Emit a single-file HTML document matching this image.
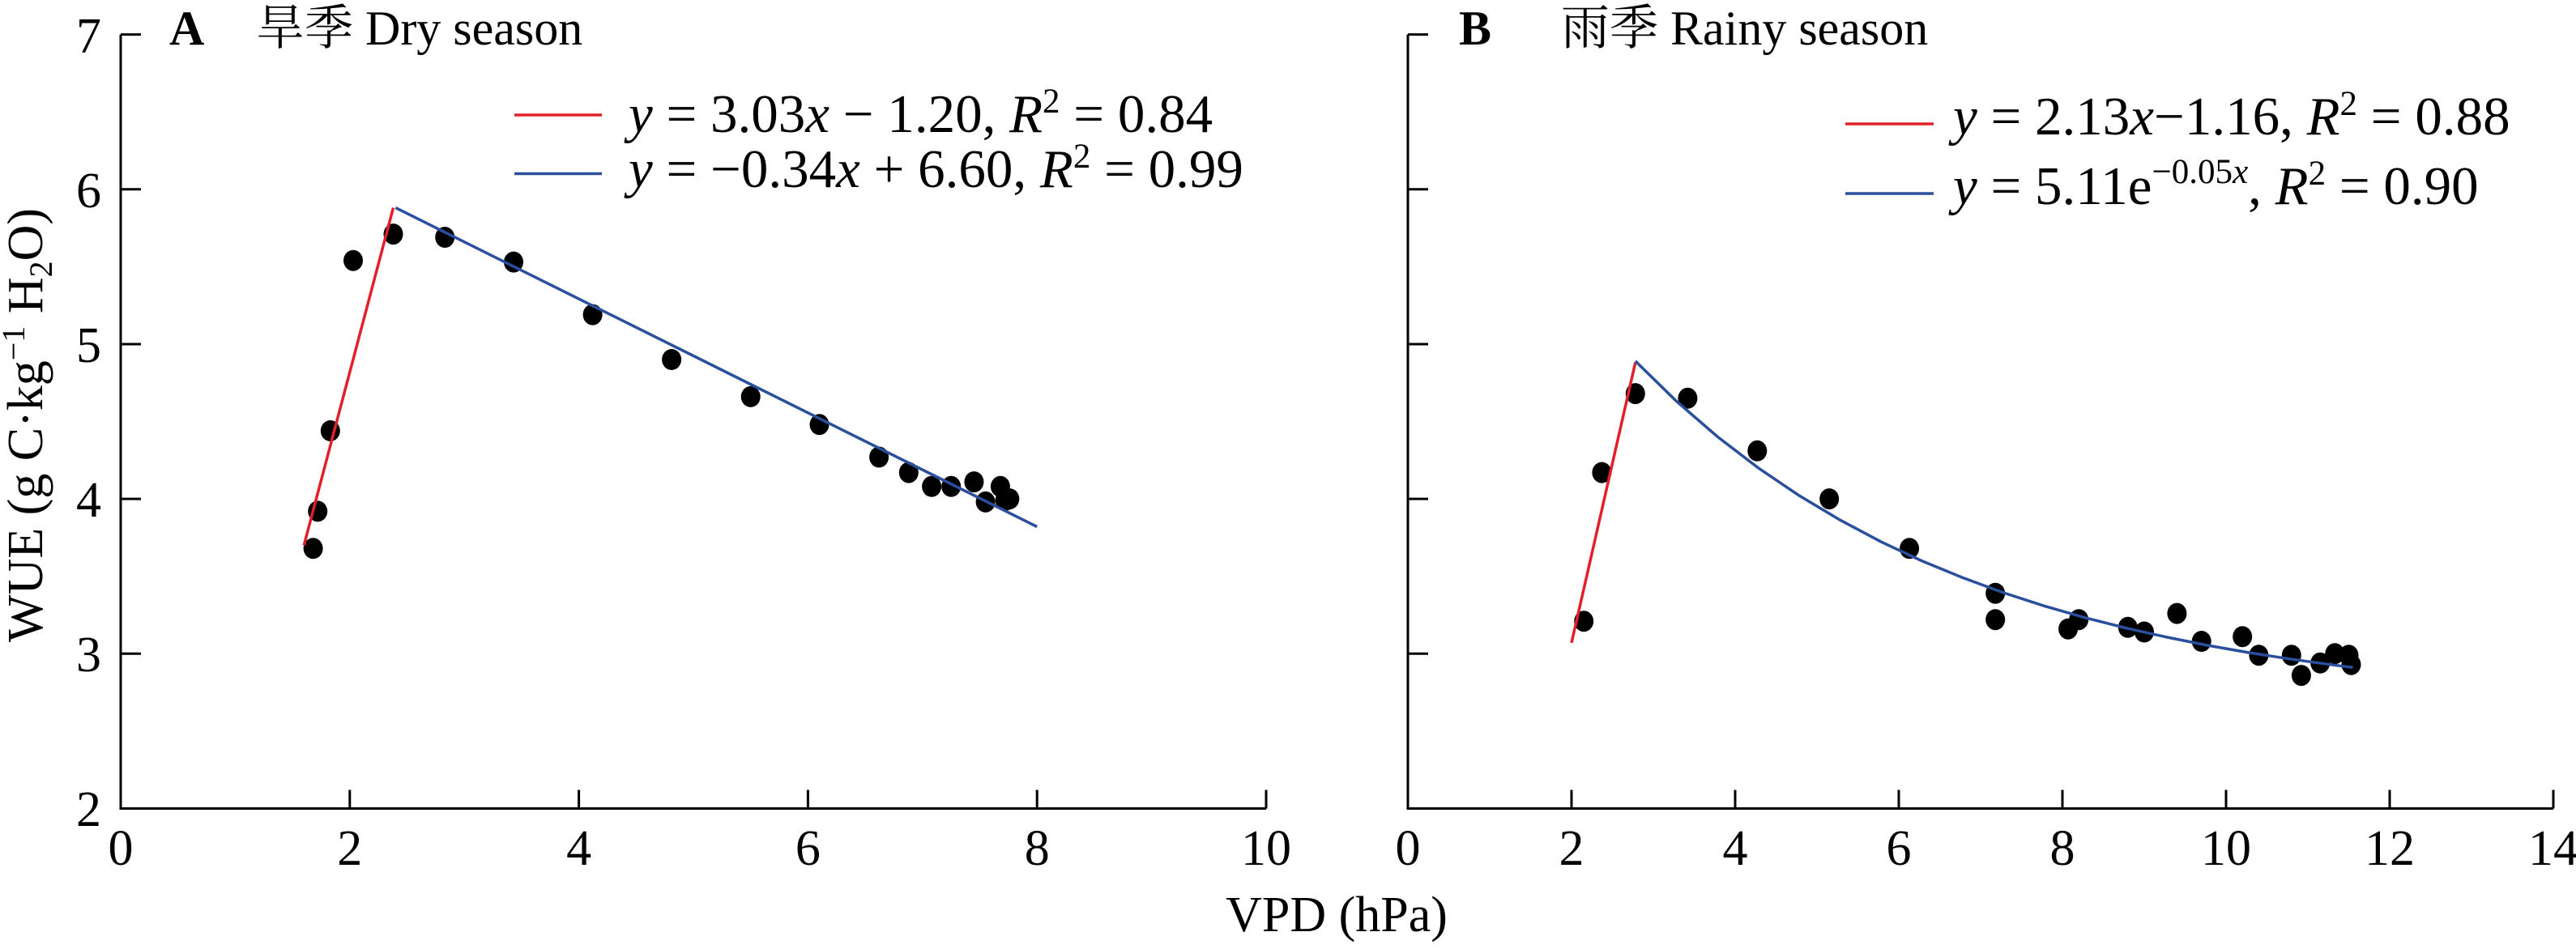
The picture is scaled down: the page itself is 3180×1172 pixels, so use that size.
<!DOCTYPE html>
<html><head><meta charset="utf-8"><style>html,body{margin:0;padding:0;background:#fff}svg{display:block}text{font-family:"Liberation Serif","Noto Serif CJK SC",serif;fill:#000}</style></head><body>
<svg width="3180" height="1172" viewBox="0 0 3180 1172" xmlns="http://www.w3.org/2000/svg">
<g stroke="#000" stroke-width="3" fill="none">
<path d="M149,42.6V998.5H1563"/>
<path d="M149,42.6h25M149,233.8h25M149,425h25M149,616.1h25M149,807.3h25"/>
<path d="M431.8,998.5v-23M714.6,998.5v-23M997.4,998.5v-23M1280.2,998.5v-23M1563,998.5v-23"/>
<path d="M1738,42.6V998.5H3152"/>
<path d="M1738,42.6h25M1738,233.8h25M1738,425h25M1738,616.1h25M1738,807.3h25"/>
<path d="M1940,998.5v-23M2142,998.5v-23M2344,998.5v-23M2546,998.5v-23M2748,998.5v-23M2950,998.5v-23M3152,998.5v-23"/>
</g>
<g font-size="62" text-anchor="end">
<text x="125" y="65">7</text><text x="125" y="256">6</text><text x="125" y="447">5</text><text x="125" y="638">4</text><text x="125" y="829">3</text><text x="125" y="1020">2</text>
</g>
<g font-size="62" text-anchor="middle">
<text x="149" y="1068">0</text><text x="431.8" y="1068">2</text><text x="714.6" y="1068">4</text><text x="997.4" y="1068">6</text><text x="1280.2" y="1068">8</text><text x="1563" y="1068">10</text>
<text x="1738" y="1068">0</text><text x="1940" y="1068">2</text><text x="2142" y="1068">4</text><text x="2344" y="1068">6</text><text x="2546" y="1068">8</text><text x="2748" y="1068">10</text><text x="2950" y="1068">12</text><text x="3152" y="1068">14</text>
<text x="1650" y="1150">VPD (hPa)</text>
<text transform="translate(52,525) rotate(-90)">WUE (g C·kg<tspan dy="-22" font-size="40">−1</tspan><tspan dy="22"> H</tspan><tspan dy="12" font-size="40">2</tspan><tspan dy="-12">O)</tspan></text>
</g>
<g font-size="60">
<text x="209" y="55" font-weight="bold">A</text>
<text x="316" y="55">旱季 Dry season</text>
<text x="1801" y="55" font-weight="bold">B</text>
<text x="1927" y="55">雨季 Rainy season</text>
</g>
<g stroke-width="3.5" fill="none">
<line x1="635" y1="142" x2="743" y2="142" stroke="#e0202a"/>
<line x1="635" y1="214.5" x2="743" y2="214.5" stroke="#2a4f9c"/>
<line x1="2278" y1="153" x2="2387" y2="153" stroke="#e0202a"/>
<line x1="2278" y1="239" x2="2387" y2="239" stroke="#2a4f9c"/>
</g>
<g font-size="67">
<text x="776" y="163"><tspan font-style="italic">y</tspan> = 3.03<tspan font-style="italic">x</tspan> − 1.20, <tspan font-style="italic">R</tspan><tspan dy="-24" font-size="43">2</tspan><tspan dy="24"> = 0.84</tspan></text>
<text x="776" y="231"><tspan font-style="italic">y</tspan> = −0.34<tspan font-style="italic">x</tspan> + 6.60, <tspan font-style="italic">R</tspan><tspan dy="-24" font-size="43">2</tspan><tspan dy="24"> = 0.99</tspan></text>
<text x="2411" y="166"><tspan font-style="italic">y</tspan> = 2.13<tspan font-style="italic">x</tspan>−1.16, <tspan font-style="italic">R</tspan><tspan dy="-24" font-size="43">2</tspan><tspan dy="24"> = 0.88</tspan></text>
<text x="2411" y="252"><tspan font-style="italic">y</tspan> = 5.11e<tspan dy="-26" font-size="43">−0.05<tspan font-style="italic">x</tspan></tspan><tspan dy="26">, </tspan><tspan font-style="italic">R</tspan><tspan dy="-24" font-size="43">2</tspan><tspan dy="24"> = 0.90</tspan></text>
</g>
<g fill="#000">
<ellipse cx="386.6" cy="677.3" rx="12" ry="13"/><ellipse cx="392.2" cy="631.4" rx="12" ry="13"/><ellipse cx="407.8" cy="532" rx="12" ry="13"/><ellipse cx="436" cy="321.7" rx="12" ry="13"/><ellipse cx="485.5" cy="289.1" rx="12" ry="13"/><ellipse cx="549.2" cy="293" rx="12" ry="13"/><ellipse cx="634" cy="323.6" rx="12" ry="13"/><ellipse cx="731.6" cy="388.6" rx="12" ry="13"/><ellipse cx="829.1" cy="444" rx="12" ry="13"/><ellipse cx="926.7" cy="489.9" rx="12" ry="13"/><ellipse cx="1011.5" cy="524.3" rx="12" ry="13"/><ellipse cx="1085.1" cy="564.5" rx="12" ry="13"/><ellipse cx="1121.8" cy="583.6" rx="12" ry="13"/><ellipse cx="1150.1" cy="600.8" rx="12" ry="13"/><ellipse cx="1174.2" cy="600.8" rx="12" ry="13"/><ellipse cx="1202.4" cy="595.1" rx="12" ry="13"/><ellipse cx="1216.6" cy="619.9" rx="12" ry="13"/><ellipse cx="1234.9" cy="600.8" rx="12" ry="13"/><ellipse cx="1240.6" cy="618" rx="12" ry="13"/><ellipse cx="1246.3" cy="616.1" rx="12" ry="13"/>
<ellipse cx="1955.2" cy="767.2" rx="12" ry="13"/><ellipse cx="1977.4" cy="583.6" rx="12" ry="13"/><ellipse cx="2018.8" cy="486.1" rx="12" ry="13"/><ellipse cx="2083.4" cy="491.8" rx="12" ry="13"/><ellipse cx="2169.3" cy="556.8" rx="12" ry="13"/><ellipse cx="2258.2" cy="616.1" rx="12" ry="13"/><ellipse cx="2357.1" cy="677.3" rx="12" ry="13"/><ellipse cx="2463.2" cy="732.7" rx="12" ry="13"/><ellipse cx="2463.2" cy="765.2" rx="12" ry="13"/><ellipse cx="2553.1" cy="776.7" rx="12" ry="13"/><ellipse cx="2566.2" cy="765.2" rx="12" ry="13"/><ellipse cx="2626.8" cy="774.8" rx="12" ry="13"/><ellipse cx="2647" cy="780.5" rx="12" ry="13"/><ellipse cx="2687.4" cy="757.6" rx="12" ry="13"/><ellipse cx="2717.7" cy="792" rx="12" ry="13"/><ellipse cx="2768.2" cy="786.3" rx="12" ry="13"/><ellipse cx="2788.4" cy="809.2" rx="12" ry="13"/><ellipse cx="2828.8" cy="809.2" rx="12" ry="13"/><ellipse cx="2840.9" cy="834.1" rx="12" ry="13"/><ellipse cx="2864.2" cy="818.8" rx="12" ry="13"/><ellipse cx="2882.3" cy="807.3" rx="12" ry="13"/><ellipse cx="2899.5" cy="809.2" rx="12" ry="13"/><ellipse cx="2902.5" cy="820.7" rx="12" ry="13"/>
</g>
<g fill="none" stroke-width="3.5">
<line x1="375.2" y1="673.5" x2="485.5" y2="256.6" stroke="#e0202a"/>
<line x1="488.4" y1="256.6" x2="1280.2" y2="650.5" stroke="#2a4f9c"/>
<line x1="1940" y1="793.9" x2="2018.8" y2="447.8" stroke="#e0202a"/>
<polyline stroke="#2a4f9c" points="2018.8,445.9 2069.3,495.3 2119.8,539 2170.3,577.7 2220.8,611.9 2271.3,642.1 2321.8,668.9 2372.3,692.6 2422.8,713.4 2473.3,732 2523.8,748.4 2574.3,762.9 2624.8,775.7 2675.3,787 2725.8,797.1 2776.3,806 2826.8,813.8 2877.3,820.8 2904.6,824.3"/>
</g>
</svg>
</body></html>
